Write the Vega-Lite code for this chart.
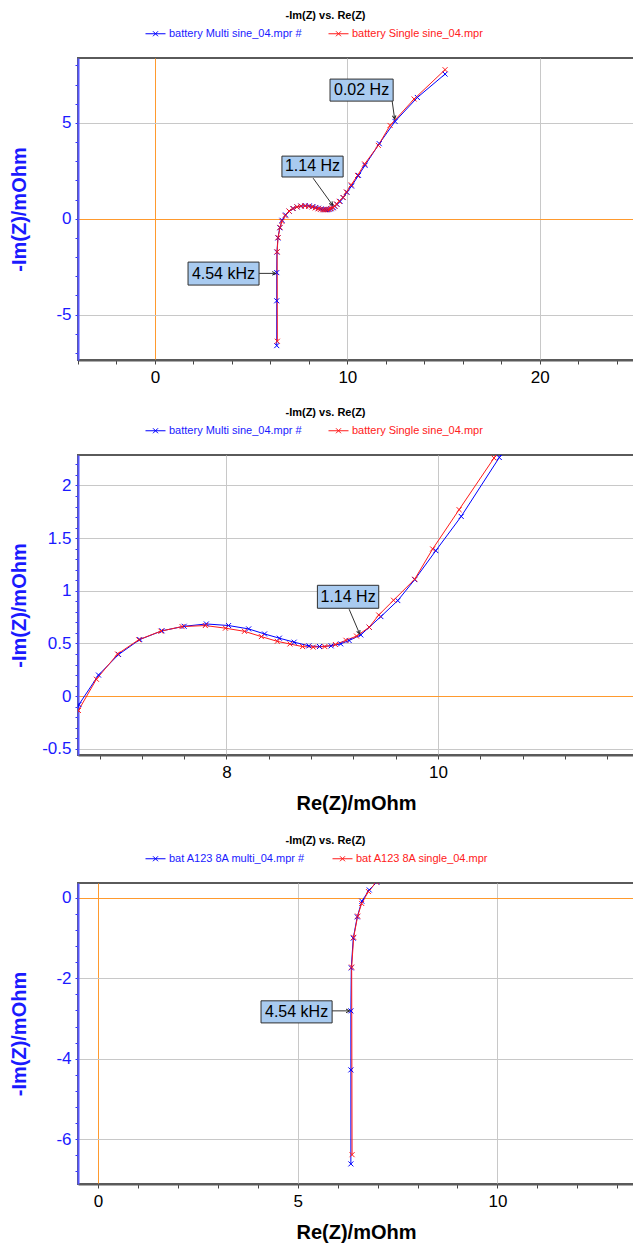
{
  "$schema": "https://vega.github.io/schema/vega-lite/v6.json",
  "background": "white",
  "padding": {"left": 8, "top": 9, "right": 0, "bottom": 0},
  "spacing": 20,
  "resolve": {"scale": {"x": "independent", "y": "independent", "color": "independent"}},
  "config": {
    "font": "Liberation Sans",
    "view": {"stroke": "#5a5a5a", "strokeWidth": 2},
    "title": {"fontSize": 11, "fontWeight": "bold", "color": "#000000", "anchor": "middle", "frame": "bounds", "offset": 2, "dx": 4, "font": "Liberation Sans"},
    "axis": {"labelFont": "Liberation Sans", "labelFontSize": 17, "titleFont": "Liberation Sans", "titleFontSize": 20, "titleFontWeight": "bold", "gridColor": "#c8c8c8", "gridWidth": 1, "labelOverlap": false, "labelFlush": false, "tickCount": 1000},
    "axisX": {"domainColor": "#5a5a5a", "domainWidth": 2, "tickColor": "#444444", "tickSize": 4, "labelColor": "#000000", "labelPadding": 5, "titleColor": "#000000", "titlePadding": 13},
    "axisY": {"domainColor": "#5555ff", "domainWidth": 2, "tickColor": "#3333ff", "tickSize": 3, "labelColor": "#1a1aff", "labelPadding": 4, "titleColor": "#1a1aff", "titlePadding": 9, "minExtent": 40, "maxExtent": 40},
    "legend": {"labelFont": "Liberation Sans", "labelFontSize": 11, "padding": 0}
  },
  "datasets": {
    "eis": [
      {"series": "battery Multi sine_04.mpr #", "n": 1, "re": 6.33, "im": -6.62},
      {"series": "battery Multi sine_04.mpr #", "n": 2, "re": 6.33, "im": -4.28},
      {"series": "battery Multi sine_04.mpr #", "n": 3, "re": 6.33, "im": -2.81},
      {"series": "battery Multi sine_04.mpr #", "n": 4, "re": 6.34, "im": -1.74},
      {"series": "battery Multi sine_04.mpr #", "n": 5, "re": 6.39, "im": -1.0},
      {"series": "battery Multi sine_04.mpr #", "n": 6, "re": 6.49, "im": -0.47},
      {"series": "battery Multi sine_04.mpr #", "n": 7, "re": 6.605, "im": -0.08},
      {"series": "battery Multi sine_04.mpr #", "n": 8, "re": 6.79, "im": 0.2},
      {"series": "battery Multi sine_04.mpr #", "n": 9, "re": 6.98, "im": 0.395},
      {"series": "battery Multi sine_04.mpr #", "n": 10, "re": 7.18, "im": 0.537},
      {"series": "battery Multi sine_04.mpr #", "n": 11, "re": 7.39, "im": 0.62},
      {"series": "battery Multi sine_04.mpr #", "n": 12, "re": 7.6, "im": 0.663},
      {"series": "battery Multi sine_04.mpr #", "n": 13, "re": 7.81, "im": 0.685},
      {"series": "battery Multi sine_04.mpr #", "n": 14, "re": 8.02, "im": 0.67},
      {"series": "battery Multi sine_04.mpr #", "n": 15, "re": 8.21, "im": 0.638},
      {"series": "battery Multi sine_04.mpr #", "n": 16, "re": 8.36, "im": 0.59},
      {"series": "battery Multi sine_04.mpr #", "n": 17, "re": 8.5, "im": 0.55},
      {"series": "battery Multi sine_04.mpr #", "n": 18, "re": 8.64, "im": 0.512},
      {"series": "battery Multi sine_04.mpr #", "n": 19, "re": 8.78, "im": 0.477},
      {"series": "battery Multi sine_04.mpr #", "n": 20, "re": 8.88, "im": 0.471},
      {"series": "battery Multi sine_04.mpr #", "n": 21, "re": 8.99, "im": 0.477},
      {"series": "battery Multi sine_04.mpr #", "n": 22, "re": 9.08, "im": 0.496},
      {"series": "battery Multi sine_04.mpr #", "n": 23, "re": 9.16, "im": 0.528},
      {"series": "battery Multi sine_04.mpr #", "n": 24, "re": 9.27, "im": 0.581},
      {"series": "battery Multi sine_04.mpr #", "n": 25, "re": 9.35, "im": 0.654},
      {"series": "battery Multi sine_04.mpr #", "n": 26, "re": 9.46, "im": 0.755},
      {"series": "battery Multi sine_04.mpr #", "n": 27, "re": 9.62, "im": 0.907},
      {"series": "battery Multi sine_04.mpr #", "n": 28, "re": 9.78, "im": 1.106},
      {"series": "battery Multi sine_04.mpr #", "n": 29, "re": 9.98, "im": 1.381},
      {"series": "battery Multi sine_04.mpr #", "n": 30, "re": 10.22, "im": 1.706},
      {"series": "battery Multi sine_04.mpr #", "n": 31, "re": 10.58, "im": 2.265},
      {"series": "battery Multi sine_04.mpr #", "n": 32, "re": 10.92, "im": 2.79},
      {"series": "battery Multi sine_04.mpr #", "n": 33, "re": 11.66, "im": 3.92},
      {"series": "battery Multi sine_04.mpr #", "n": 34, "re": 12.48, "im": 5.08},
      {"series": "battery Multi sine_04.mpr #", "n": 35, "re": 13.64, "im": 6.33},
      {"series": "battery Multi sine_04.mpr #", "n": 36, "re": 15.08, "im": 7.55},
      {"series": "battery Single sine_04.mpr", "n": 1, "re": 6.36, "im": -6.39},
      {"series": "battery Single sine_04.mpr", "n": 2, "re": 6.35, "im": -1.72},
      {"series": "battery Single sine_04.mpr", "n": 3, "re": 6.4, "im": -0.98},
      {"series": "battery Single sine_04.mpr", "n": 4, "re": 6.5, "im": -0.45},
      {"series": "battery Single sine_04.mpr", "n": 5, "re": 6.6, "im": -0.136},
      {"series": "battery Single sine_04.mpr", "n": 6, "re": 6.77, "im": 0.16},
      {"series": "battery Single sine_04.mpr", "n": 7, "re": 6.97, "im": 0.4},
      {"series": "battery Single sine_04.mpr", "n": 8, "re": 7.17, "im": 0.535},
      {"series": "battery Single sine_04.mpr", "n": 9, "re": 7.38, "im": 0.617},
      {"series": "battery Single sine_04.mpr", "n": 10, "re": 7.58, "im": 0.66},
      {"series": "battery Single sine_04.mpr", "n": 11, "re": 7.8, "im": 0.67},
      {"series": "battery Single sine_04.mpr", "n": 12, "re": 7.99, "im": 0.645},
      {"series": "battery Single sine_04.mpr", "n": 13, "re": 8.17, "im": 0.615},
      {"series": "battery Single sine_04.mpr", "n": 14, "re": 8.33, "im": 0.565},
      {"series": "battery Single sine_04.mpr", "n": 15, "re": 8.48, "im": 0.52},
      {"series": "battery Single sine_04.mpr", "n": 16, "re": 8.6, "im": 0.495},
      {"series": "battery Single sine_04.mpr", "n": 17, "re": 8.72, "im": 0.47},
      {"series": "battery Single sine_04.mpr", "n": 18, "re": 8.82, "im": 0.465},
      {"series": "battery Single sine_04.mpr", "n": 19, "re": 8.93, "im": 0.47},
      {"series": "battery Single sine_04.mpr", "n": 20, "re": 9.03, "im": 0.49},
      {"series": "battery Single sine_04.mpr", "n": 21, "re": 9.13, "im": 0.53},
      {"series": "battery Single sine_04.mpr", "n": 22, "re": 9.23, "im": 0.57},
      {"series": "battery Single sine_04.mpr", "n": 23, "re": 9.35, "im": 0.654},
      {"series": "battery Single sine_04.mpr", "n": 24, "re": 9.44, "im": 0.77},
      {"series": "battery Single sine_04.mpr", "n": 25, "re": 9.58, "im": 0.91},
      {"series": "battery Single sine_04.mpr", "n": 26, "re": 9.78, "im": 1.11},
      {"series": "battery Single sine_04.mpr", "n": 27, "re": 9.95, "im": 1.397},
      {"series": "battery Single sine_04.mpr", "n": 28, "re": 10.2, "im": 1.77},
      {"series": "battery Single sine_04.mpr", "n": 29, "re": 10.53, "im": 2.26},
      {"series": "battery Single sine_04.mpr", "n": 30, "re": 10.9, "im": 2.86},
      {"series": "battery Single sine_04.mpr", "n": 31, "re": 11.61, "im": 3.83},
      {"series": "battery Single sine_04.mpr", "n": 32, "re": 12.22, "im": 4.87},
      {"series": "battery Single sine_04.mpr", "n": 33, "re": 13.47, "im": 6.25},
      {"series": "battery Single sine_04.mpr", "n": 34, "re": 15.08, "im": 7.78}
    ],
    "ann": [
      {"panel": 1, "label": "0.02 Hz", "x1": 9.1, "x2": 12.38, "y1": 7.29, "y2": 6.14, "tx": 10.74, "ty": 6.72, "ax": 12.33, "ay": 6.14, "bx": 12.46, "by": 5.2},
      {"panel": 1, "label": "1.14 Hz", "x1": 6.6, "x2": 9.78, "y1": 3.27, "y2": 2.18, "tx": 8.19, "ty": 2.73, "ax": 8.22, "ay": 2.12, "bx": 9.24, "by": 0.7},
      {"panel": 1, "label": "4.54 kHz", "x1": 1.72, "x2": 5.41, "y1": -2.26, "y2": -3.46, "tx": 3.56, "ty": -2.86, "ax": 5.41, "ay": -2.85, "bx": 6.28, "by": -2.85},
      {"panel": 2, "label": "1.14 Hz", "x1": 8.86, "x2": 9.44, "y1": 1.052, "y2": 0.834, "tx": 9.15, "ty": 0.943, "ax": 9.16, "ay": 0.825, "bx": 9.26, "by": 0.59},
      {"panel": 3, "label": "4.54 kHz", "x1": 4.08, "x2": 5.86, "y1": -2.56, "y2": -3.11, "tx": 4.97, "ty": -2.835, "ax": 5.86, "ay": -2.81, "bx": 6.3, "by": -2.81}
    ]
  },
  "vconcat": [
    {
      "title": "-Im(Z) vs. Re(Z)",
      "width": 556,
      "height": 302,
      "layer": [
        {
          "data": {"name": "eis"},
          "mark": {"type": "line", "strokeWidth": 1, "clip": true},
          "encoding": {
            "x": {"field": "re", "type": "quantitative", "scale": {"domain": [-4, 24.9], "nice": false, "zero": false},
              "axis": {"title": null, "labelOverlap": false, "tickCount": 1000, "values": [-4, -2, 0, 2, 4, 6, 8, 10, 12, 14, 16, 18, 20, 22, 24],
                "labelExpr": "datum.value % 10 === 0 ? '' + datum.value : ''",
                "gridOpacity": {"condition": {"test": "datum.value % 10 === 0", "value": 1}, "value": 0},
                "gridColor": {"condition": {"test": "datum.value === 0", "value": "#ff9a2e"}, "value": "#c8c8c8"}}},
            "y": {"field": "im", "type": "quantitative", "scale": {"domain": [-7.37, 8.39], "nice": false, "zero": false},
              "axis": {"title": "-Im(Z)/mOhm", "labelOverlap": false, "tickCount": 1000, "values": [-7, -6, -5, -4, -3, -2, -1, 0, 1, 2, 3, 4, 5, 6, 7, 8],
                "labelExpr": "datum.value % 5 === 0 ? '' + datum.value : ''",
                "gridOpacity": {"condition": {"test": "datum.value % 5 === 0", "value": 1}, "value": 0},
                "gridColor": {"condition": {"test": "datum.value === 0", "value": "#ff9a2e"}, "value": "#c8c8c8"}}},
            "color": {"field": "series", "type": "nominal",
              "scale": {"domain": ["battery Multi sine_04.mpr #", "battery Single sine_04.mpr"], "range": ["#0000ff", "#ff1a1a"]},
              "legend": {"title": null, "orient": "none", "legendX": 67, "legendY": -35, "direction": "horizontal",
                "symbolType": "M-1,0L1,0M-0.25,-0.25L0.25,0.25M-0.25,0.25L0.25,-0.25", "symbolSize": 400, "symbolStrokeWidth": 1,
                "labelOffset": 3, "columnPadding": 24,
                "encode": {"labels": {"update": {"fill": {"signal": "datum.value == 'battery Multi sine_04.mpr #' ? '#1a1aff' : '#ff2020'"}}}}}},
            "order": {"field": "n", "type": "quantitative"}
          }
        },
        {
          "data": {"name": "eis"},
          "mark": {"type": "point", "shape": "M-1,-1L1,1M-1,1L1,-1", "filled": false, "size": 25, "strokeWidth": 1, "opacity": 1, "clip": true},
          "encoding": {
            "x": {"field": "re", "type": "quantitative"},
            "y": {"field": "im", "type": "quantitative"},
            "color": {"field": "series", "type": "nominal"}
          }
        },
        {
          "data": {"name": "ann"},
          "transform": [{"filter": "datum.panel == 1"}],
          "mark": {"type": "rect", "fill": "#707070", "xOffset": 2, "yOffset": 2},
          "encoding": {"x": {"field": "x1", "type": "quantitative"}, "x2": {"field": "x2"}, "y": {"field": "y1", "type": "quantitative"}, "y2": {"field": "y2"}}
        },
        {
          "data": {"name": "ann"},
          "transform": [{"filter": "datum.panel == 1"}],
          "mark": {"type": "rect", "fill": "#a9cbf0", "stroke": "#303030", "strokeWidth": 1},
          "encoding": {"x": {"field": "x1", "type": "quantitative"}, "x2": {"field": "x2"}, "y": {"field": "y1", "type": "quantitative"}, "y2": {"field": "y2"}}
        },
        {
          "data": {"name": "ann"},
          "transform": [{"filter": "datum.panel == 1"}],
          "mark": {"type": "text", "fontSize": 16, "font": "Liberation Sans", "color": "#000000", "baseline": "middle", "align": "center"},
          "encoding": {"x": {"field": "tx", "type": "quantitative"}, "y": {"field": "ty", "type": "quantitative"}, "text": {"field": "label"}}
        },
        {
          "data": {"name": "ann"},
          "transform": [{"filter": "datum.panel == 1"}],
          "mark": {"type": "rule", "color": "#333333", "strokeWidth": 1},
          "encoding": {"x": {"field": "ax", "type": "quantitative"}, "y": {"field": "ay", "type": "quantitative"}, "x2": {"field": "bx"}, "y2": {"field": "by"}}
        },
        {
          "data": {"name": "ann"},
          "transform": [{"filter": "datum.panel == 1 && datum.label == '0.02 Hz'"}],
          "mark": {"type": "point", "shape": "M-0.6,1.2L0,0L0.6,1.2", "filled": false, "size": 36, "strokeWidth": 1, "color": "#222222", "opacity": 1, "angle": 172},
          "encoding": {"x": {"field": "bx", "type": "quantitative"}, "y": {"field": "by", "type": "quantitative"}}
        },
        {
          "data": {"name": "ann"},
          "transform": [{"filter": "datum.panel == 1 && datum.label == '1.14 Hz'"}],
          "mark": {"type": "point", "shape": "M-0.6,1.2L0,0L0.6,1.2", "filled": false, "size": 36, "strokeWidth": 1, "color": "#222222", "opacity": 1, "angle": 144},
          "encoding": {"x": {"field": "bx", "type": "quantitative"}, "y": {"field": "by", "type": "quantitative"}}
        },
        {
          "data": {"name": "ann"},
          "transform": [{"filter": "datum.panel == 1 && datum.label == '4.54 kHz'"}],
          "mark": {"type": "point", "shape": "M-0.6,1.2L0,0L0.6,1.2", "filled": false, "size": 36, "strokeWidth": 1, "color": "#222222", "opacity": 1, "angle": 90},
          "encoding": {"x": {"field": "bx", "type": "quantitative"}, "y": {"field": "by", "type": "quantitative"}}
        }
      ]
    },
    {
      "title": "-Im(Z) vs. Re(Z)",
      "width": 556,
      "height": 300,
      "layer": [
        {
          "data": {"name": "eis"},
          "mark": {"type": "line", "strokeWidth": 1, "clip": true},
          "encoding": {
            "x": {"field": "re", "type": "quantitative", "scale": {"domain": [6.596, 11.854], "nice": false, "zero": false},
              "axis": {"title": "Re(Z)/mOhm", "labelOverlap": false, "tickCount": 1000, "values": [6.8, 7.2, 7.6, 8, 8.4, 8.8, 9.2, 9.6, 10, 10.4, 10.8, 11.2, 11.6],
                "labelExpr": "datum.value === 8 || datum.value === 10 ? '' + datum.value : ''",
                "gridOpacity": {"condition": {"test": "datum.value === 8 || datum.value === 10", "value": 1}, "value": 0}}},
            "y": {"field": "im", "type": "quantitative", "scale": {"domain": [-0.559, 2.289], "nice": false, "zero": false},
              "axis": {"title": "-Im(Z)/mOhm", "labelOverlap": false, "tickCount": 1000, "values": [-0.5, -0.4, -0.3, -0.2, -0.1, 0, 0.1, 0.2, 0.3, 0.4, 0.5, 0.6, 0.7, 0.8, 0.9, 1, 1.1, 1.2, 1.3, 1.4, 1.5, 1.6, 1.7, 1.8, 1.9, 2, 2.1, 2.2],
                "labelExpr": "abs(datum.value * 2 - round(datum.value * 2)) < 0.000001 ? '' + datum.value : ''",
                "gridOpacity": {"condition": {"test": "abs(datum.value * 2 - round(datum.value * 2)) < 0.000001", "value": 1}, "value": 0},
                "gridColor": {"condition": {"test": "abs(datum.value) < 0.000001", "value": "#ff9a2e"}, "value": "#c8c8c8"}}},
            "color": {"field": "series", "type": "nominal",
              "scale": {"domain": ["battery Multi sine_04.mpr #", "battery Single sine_04.mpr"], "range": ["#0000ff", "#ff1a1a"]},
              "legend": {"title": null, "orient": "none", "legendX": 67, "legendY": -35, "direction": "horizontal",
                "symbolType": "M-1,0L1,0M-0.25,-0.25L0.25,0.25M-0.25,0.25L0.25,-0.25", "symbolSize": 400, "symbolStrokeWidth": 1,
                "labelOffset": 3, "columnPadding": 24,
                "encode": {"labels": {"update": {"fill": {"signal": "datum.value == 'battery Multi sine_04.mpr #' ? '#1a1aff' : '#ff2020'"}}}}}},
            "order": {"field": "n", "type": "quantitative"}
          }
        },
        {
          "data": {"name": "eis"},
          "mark": {"type": "point", "shape": "M-1,-1L1,1M-1,1L1,-1", "filled": false, "size": 25, "strokeWidth": 1, "opacity": 1, "clip": true},
          "encoding": {
            "x": {"field": "re", "type": "quantitative"},
            "y": {"field": "im", "type": "quantitative"},
            "color": {"field": "series", "type": "nominal"}
          }
        },
        {
          "data": {"name": "ann"},
          "transform": [{"filter": "datum.panel == 2"}],
          "mark": {"type": "rect", "fill": "#707070", "xOffset": 2, "yOffset": 2},
          "encoding": {"x": {"field": "x1", "type": "quantitative"}, "x2": {"field": "x2"}, "y": {"field": "y1", "type": "quantitative"}, "y2": {"field": "y2"}}
        },
        {
          "data": {"name": "ann"},
          "transform": [{"filter": "datum.panel == 2"}],
          "mark": {"type": "rect", "fill": "#a9cbf0", "stroke": "#303030", "strokeWidth": 1},
          "encoding": {"x": {"field": "x1", "type": "quantitative"}, "x2": {"field": "x2"}, "y": {"field": "y1", "type": "quantitative"}, "y2": {"field": "y2"}}
        },
        {
          "data": {"name": "ann"},
          "transform": [{"filter": "datum.panel == 2"}],
          "mark": {"type": "text", "fontSize": 16, "font": "Liberation Sans", "color": "#000000", "baseline": "middle", "align": "center"},
          "encoding": {"x": {"field": "tx", "type": "quantitative"}, "y": {"field": "ty", "type": "quantitative"}, "text": {"field": "label"}}
        },
        {
          "data": {"name": "ann"},
          "transform": [{"filter": "datum.panel == 2"}],
          "mark": {"type": "rule", "color": "#333333", "strokeWidth": 1},
          "encoding": {"x": {"field": "ax", "type": "quantitative"}, "y": {"field": "ay", "type": "quantitative"}, "x2": {"field": "bx"}, "y2": {"field": "by"}}
        },
        {
          "data": {"name": "ann"},
          "transform": [{"filter": "datum.panel == 2"}],
          "mark": {"type": "point", "shape": "M-0.6,1.2L0,0L0.6,1.2", "filled": false, "size": 36, "strokeWidth": 1, "color": "#222222", "opacity": 1, "angle": 157},
          "encoding": {"x": {"field": "bx", "type": "quantitative"}, "y": {"field": "by", "type": "quantitative"}}
        }
      ]
    },
    {
      "title": "-Im(Z) vs. Re(Z)",
      "width": 556,
      "height": 301,
      "layer": [
        {
          "data": {"name": "eis"},
          "mark": {"type": "line", "strokeWidth": 1, "clip": true},
          "encoding": {
            "x": {"field": "re", "type": "quantitative", "scale": {"domain": [-0.503, 13.42], "nice": false, "zero": false},
              "axis": {"title": "Re(Z)/mOhm", "labelOverlap": false, "tickCount": 1000, "values": [0, 1, 2, 3, 4, 5, 6, 7, 8, 9, 10, 11, 12, 13],
                "labelExpr": "datum.value % 5 === 0 ? '' + datum.value : ''",
                "gridOpacity": {"condition": {"test": "datum.value % 5 === 0", "value": 1}, "value": 0},
                "gridColor": {"condition": {"test": "datum.value === 0", "value": "#ff9a2e"}, "value": "#c8c8c8"}}},
            "y": {"field": "im", "type": "quantitative", "scale": {"domain": [-7.12, 0.373], "nice": false, "zero": false},
              "axis": {"title": "-Im(Z)/mOhm", "labelOverlap": false, "tickCount": 1000, "values": [-6.8, -6.4, -6, -5.6, -5.2, -4.8, -4.4, -4, -3.6, -3.2, -2.8, -2.4, -2, -1.6, -1.2, -0.8, -0.4, 0],
                "labelExpr": "abs(datum.value / 2 - round(datum.value / 2)) < 0.000001 ? '' + datum.value : ''",
                "gridOpacity": {"condition": {"test": "abs(datum.value / 2 - round(datum.value / 2)) < 0.000001", "value": 1}, "value": 0},
                "gridColor": {"condition": {"test": "abs(datum.value) < 0.000001", "value": "#ff9a2e"}, "value": "#c8c8c8"}}},
            "color": {"field": "series", "type": "nominal",
              "scale": {"domain": ["battery Multi sine_04.mpr #", "battery Single sine_04.mpr"], "range": ["#0000ff", "#ff1a1a"]},
              "legend": {"title": null, "orient": "none", "legendX": 67, "legendY": -35, "direction": "horizontal",
                "symbolType": "M-1,0L1,0M-0.25,-0.25L0.25,0.25M-0.25,0.25L0.25,-0.25", "symbolSize": 400, "symbolStrokeWidth": 1,
                "labelOffset": 3, "columnPadding": 24,
                "labelExpr": "datum.value == 'battery Multi sine_04.mpr #' ? 'bat A123 8A multi_04.mpr #' : 'bat A123 8A single_04.mpr'",
                "encode": {"labels": {"update": {"fill": {"signal": "datum.value == 'battery Multi sine_04.mpr #' ? '#1a1aff' : '#ff2020'"}}}}}},
            "order": {"field": "n", "type": "quantitative"}
          }
        },
        {
          "data": {"name": "eis"},
          "mark": {"type": "point", "shape": "M-1,-1L1,1M-1,1L1,-1", "filled": false, "size": 25, "strokeWidth": 1, "opacity": 1, "clip": true},
          "encoding": {
            "x": {"field": "re", "type": "quantitative"},
            "y": {"field": "im", "type": "quantitative"},
            "color": {"field": "series", "type": "nominal"}
          }
        },
        {
          "data": {"name": "ann"},
          "transform": [{"filter": "datum.panel == 3"}],
          "mark": {"type": "rect", "fill": "#707070", "xOffset": 2, "yOffset": 2},
          "encoding": {"x": {"field": "x1", "type": "quantitative"}, "x2": {"field": "x2"}, "y": {"field": "y1", "type": "quantitative"}, "y2": {"field": "y2"}}
        },
        {
          "data": {"name": "ann"},
          "transform": [{"filter": "datum.panel == 3"}],
          "mark": {"type": "rect", "fill": "#a9cbf0", "stroke": "#303030", "strokeWidth": 1},
          "encoding": {"x": {"field": "x1", "type": "quantitative"}, "x2": {"field": "x2"}, "y": {"field": "y1", "type": "quantitative"}, "y2": {"field": "y2"}}
        },
        {
          "data": {"name": "ann"},
          "transform": [{"filter": "datum.panel == 3"}],
          "mark": {"type": "text", "fontSize": 16, "font": "Liberation Sans", "color": "#000000", "baseline": "middle", "align": "center"},
          "encoding": {"x": {"field": "tx", "type": "quantitative"}, "y": {"field": "ty", "type": "quantitative"}, "text": {"field": "label"}}
        },
        {
          "data": {"name": "ann"},
          "transform": [{"filter": "datum.panel == 3"}],
          "mark": {"type": "rule", "color": "#333333", "strokeWidth": 1},
          "encoding": {"x": {"field": "ax", "type": "quantitative"}, "y": {"field": "ay", "type": "quantitative"}, "x2": {"field": "bx"}, "y2": {"field": "by"}}
        },
        {
          "data": {"name": "ann"},
          "transform": [{"filter": "datum.panel == 3"}],
          "mark": {"type": "point", "shape": "M-0.6,1.2L0,0L0.6,1.2", "filled": false, "size": 36, "strokeWidth": 1, "color": "#222222", "opacity": 1, "angle": 90},
          "encoding": {"x": {"field": "bx", "type": "quantitative"}, "y": {"field": "by", "type": "quantitative"}}
        }
      ]
    }
  ]
}
